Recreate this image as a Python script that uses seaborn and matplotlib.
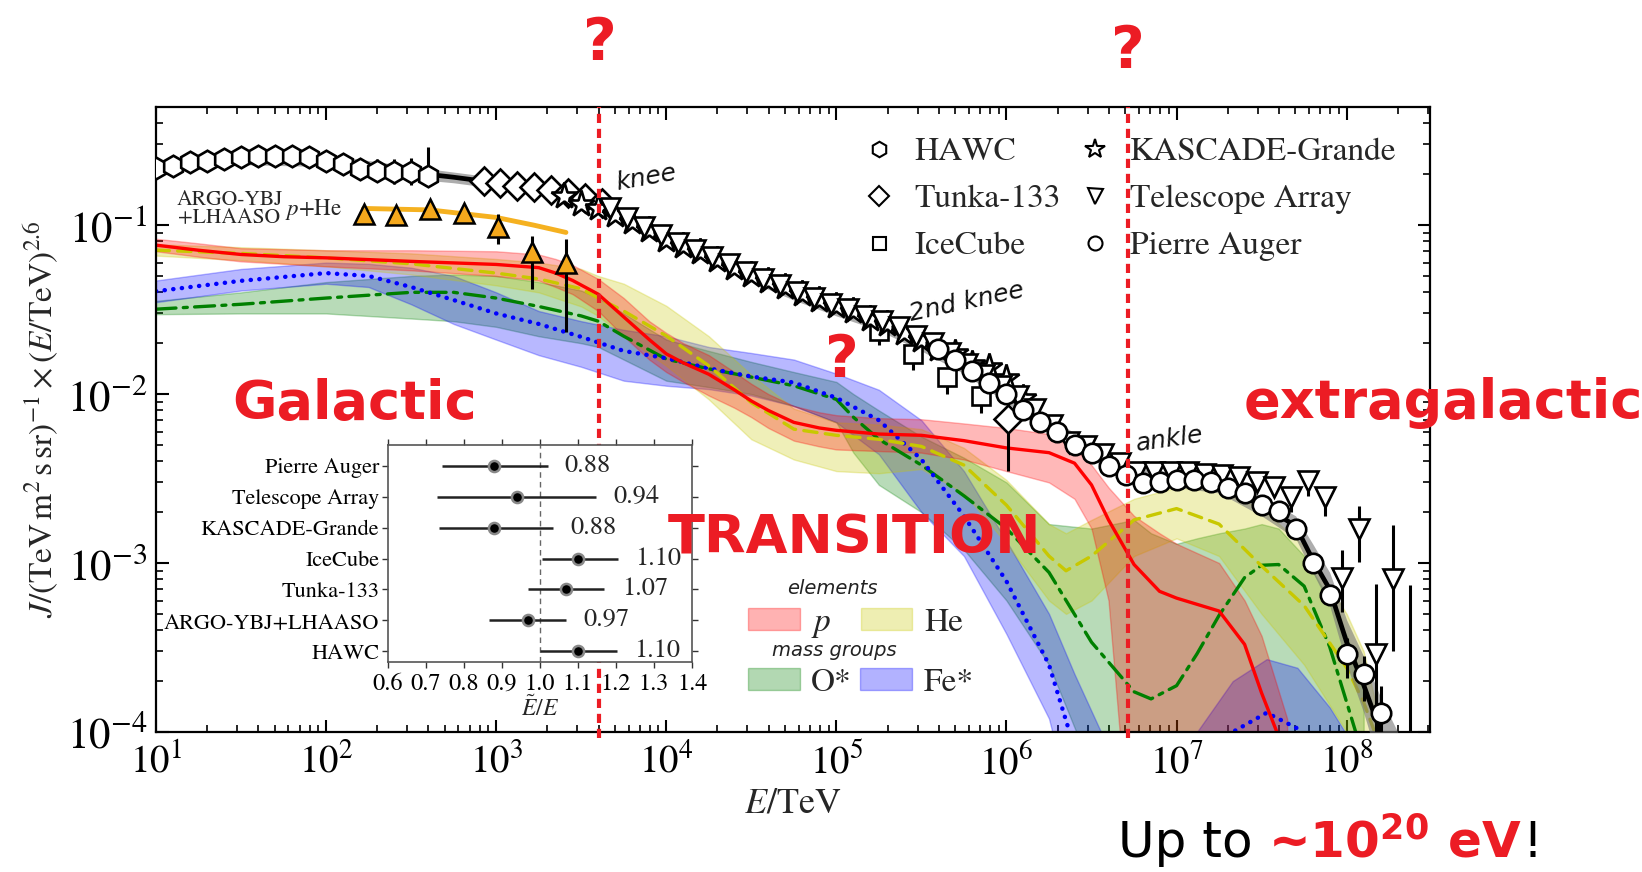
import numpy as np
import matplotlib
matplotlib.use("Agg")
import matplotlib.pyplot as plt
import seaborn as sns
from matplotlib.patches import Patch
from matplotlib.lines import Line2D

# ---------------- data (log10 E/TeV, J*E^2.6) ----------------
total_logE = [1.0, 1.5, 2.0, 2.5, 2.75, 3.0, 3.25, 3.5, 3.6, 3.75, 4.0, 4.25, 4.5, 4.75, 5.0, 5.25, 5.5,
              5.75, 6.0, 6.25, 6.5, 6.75, 7.0, 7.25, 7.5, 7.7, 7.8, 7.9, 8.0, 8.1, 8.2, 8.3]
total_J = [0.219, 0.250, 0.243, 0.205, 0.192, 0.178, 0.165, 0.147, 0.136, 0.112, 0.085, 0.066, 0.050, 0.040,
           0.032, 0.0262, 0.0200, 0.0145, 0.0098, 0.0066, 0.0046, 0.0033, 0.0031, 0.0029, 0.0022, 0.00166,
           0.00105, 0.0007, 0.00034, 0.00019, 0.0001, 0.00005]
total_lo = [0.200, 0.228, 0.222, 0.188, 0.178, 0.165, 0.153, 0.136, 0.125, 0.102, 0.077, 0.060, 0.046, 0.036,
            0.029, 0.0238, 0.018, 0.0132, 0.0089, 0.0060, 0.0041, 0.0030, 0.0028, 0.0026, 0.0019, 0.0014,
            0.00088, 0.00056, 0.00025, 0.00013, 0.00006, 0.00003]
total_hi = [0.238, 0.270, 0.262, 0.222, 0.206, 0.191, 0.178, 0.158, 0.147, 0.121, 0.091, 0.072, 0.055, 0.044,
            0.035, 0.0290, 0.022, 0.0160, 0.0108, 0.0073, 0.0051, 0.0037, 0.0034, 0.0032, 0.0025, 0.0019,
            0.0013, 0.00088, 0.00046, 0.00028, 0.00016, 0.0001]

# composition model: proton
p_logE = [1.0, 1.25, 1.5, 1.75, 2.0, 2.5, 3.0, 3.25, 3.35, 3.45, 3.6, 3.75, 3.9, 4.0, 4.1, 4.25, 4.4, 4.5,
          4.6, 4.75, 4.9, 5.0, 5.25, 5.5, 5.75, 6.0, 6.25, 6.4, 6.5, 6.6, 6.75, 6.9, 7.0, 7.25, 7.4, 7.5, 7.65]
p_J = [0.0761, 0.071, 0.067, 0.065, 0.064, 0.061, 0.0585, 0.056, 0.052, 0.047, 0.039, 0.0286, 0.021, 0.0173,
       0.0153, 0.0131, 0.0106, 0.0091, 0.0080, 0.0068, 0.0063, 0.0061, 0.0058, 0.0057, 0.0053, 0.0048,
       0.0045, 0.0039, 0.0029, 0.0018, 0.00098, 0.00068, 0.00062, 0.00052, 0.00033, 0.00017, 0.00007]
p_lo = [0.070, 0.065, 0.061, 0.059, 0.057, 0.054, 0.050, 0.047, 0.043, 0.039, 0.031, 0.022, 0.0160, 0.0135,
        0.0118, 0.0098, 0.0083, 0.0073, 0.0063, 0.0053, 0.0049, 0.0047, 0.0046, 0.0045, 0.0041, 0.0035,
        0.0030, 0.0024, 0.0016, 0.0006, 0.00001, 0.00001, 0.00001, 0.00001, 0.00001, 0.00001, 0.00001]
p_hi = [0.083, 0.078, 0.073, 0.072, 0.071, 0.071, 0.070, 0.067, 0.063, 0.058, 0.048, 0.037, 0.027, 0.023,
        0.020, 0.017, 0.0135, 0.0115, 0.0100, 0.0085, 0.0078, 0.0075, 0.0072, 0.0071, 0.0067, 0.0063,
        0.0058, 0.0048, 0.0038, 0.0028, 0.0019, 0.0015, 0.0013, 0.0010, 0.0006, 0.00037, 0.00012]

# helium
he_logE = [1.0, 1.5, 2.0, 2.5, 3.0, 3.25, 3.5, 3.6, 3.75, 4.0, 4.25, 4.5, 4.75, 5.0, 5.25, 5.5, 5.75, 6.0,
           6.25, 6.35, 6.5, 6.75, 7.0, 7.25, 7.5, 7.75, 8.0, 8.1, 8.2]
he_J = [0.0711, 0.068, 0.064, 0.059, 0.052, 0.048, 0.042, 0.037, 0.031, 0.0221, 0.0147, 0.0089, 0.0062,
        0.0057, 0.0054, 0.0049, 0.0038, 0.0022, 0.0011, 0.0009, 0.0011, 0.0018, 0.0021, 0.0017, 0.00096,
        0.00056, 0.00024, 0.00015, 0.00008]
he_lo = [0.066, 0.062, 0.057, 0.051, 0.044, 0.040, 0.033, 0.029, 0.022, 0.0147, 0.0093, 0.0054, 0.0041,
         0.0035, 0.0034, 0.0036, 0.0026, 0.0013, 0.0006, 0.0005, 0.0006, 0.0011, 0.0014, 0.0011, 0.0005,
         0.00025, 0.0001, 0.00005, 0.00002]
he_hi = [0.077, 0.074, 0.071, 0.068, 0.063, 0.060, 0.055, 0.050, 0.045, 0.0333, 0.0220, 0.0130, 0.0082,
         0.0068, 0.0066, 0.0062, 0.0048, 0.0031, 0.0017, 0.0015, 0.0018, 0.0024, 0.0028, 0.0027, 0.0021,
         0.00126, 0.0005, 0.0003, 0.00011]

# O* mass group
o_logE = [1.0, 1.5, 2.0, 2.5, 2.75, 3.0, 3.25, 3.5, 3.6, 3.75, 4.0, 4.25, 4.5, 4.75, 5.0, 5.1, 5.25, 5.5,
          5.75, 6.0, 6.25, 6.5, 6.75, 6.85, 7.0, 7.12, 7.25, 7.4, 7.5, 7.6, 7.75, 7.9, 8.0, 8.1]
o_J = [0.0318, 0.034, 0.037, 0.040, 0.040, 0.037, 0.033, 0.029, 0.027, 0.022, 0.0161, 0.0141, 0.0126,
       0.0112, 0.0093, 0.0073, 0.0054, 0.0038, 0.0025, 0.0016, 0.00088, 0.00034, 0.000173, 0.000157,
       0.000188, 0.00029, 0.00049, 0.00082, 0.00097, 0.00098, 0.00073, 0.00032, 0.00015, 0.00007]
o_lo = [0.0297, 0.030, 0.030, 0.028, 0.027, 0.025, 0.022, 0.020, 0.019, 0.016, 0.012, 0.011, 0.0100,
        0.0085, 0.0068, 0.0045, 0.0029, 0.0020, 0.0012, 0.0006, 0.00025, 0.00006, 0.00001, 0.00001,
        0.00001, 0.00001, 0.00001, 0.00001, 0.00001, 0.00001, 0.00001, 0.00001, 0.00001, 0.00001]
o_hi = [0.0356, 0.040, 0.046, 0.050, 0.051, 0.050, 0.046, 0.041, 0.037, 0.030, 0.021, 0.018, 0.0155,
        0.0135, 0.0118, 0.0100, 0.0080, 0.0056, 0.0042, 0.0030, 0.0017, 0.0016, 0.0018, 0.0015, 0.0013,
        0.0014, 0.0015, 0.0016, 0.0017, 0.0016, 0.0011, 0.0006, 0.00037, 0.0002]

# Fe* mass group
fe_logE = [1.0, 1.5, 2.0, 2.25, 2.5, 2.75, 3.0, 3.25, 3.5, 3.75, 4.0, 4.25, 4.5, 4.75, 5.0, 5.25, 5.5,
           5.75, 6.0, 6.25, 6.4, 6.6, 7.0, 7.12, 7.33, 7.53, 7.71, 7.9, 8.05]
fe_J = [0.0406, 0.0468, 0.052, 0.050, 0.043, 0.036, 0.030, 0.026, 0.0218, 0.018, 0.0163, 0.0142, 0.0127,
        0.0117, 0.0095, 0.0070, 0.0041, 0.0019, 0.00078, 0.00025, 0.00008, 0.00003, 0.00002, 0.00004,
        0.00010, 0.00013, 0.000105, 0.00005, 0.00001]
fe_lo = [0.035, 0.041, 0.045, 0.043, 0.034, 0.026, 0.021, 0.017, 0.0145, 0.012, 0.0112, 0.0107, 0.0098,
         0.0085, 0.0068, 0.0044, 0.0020, 0.0011, 0.00038, 0.00012, 0.00003, 0.00001, 0.00001, 0.00001,
         0.00001, 0.00001, 0.00001, 0.00001, 0.00001]
fe_hi = [0.047, 0.055, 0.060, 0.059, 0.056, 0.050, 0.040, 0.031, 0.027, 0.024, 0.022, 0.019, 0.0175,
         0.016, 0.0132, 0.0106, 0.0070, 0.0035, 0.00135, 0.0005, 0.00022, 0.00008, 0.00006, 0.0001,
         0.0002, 0.00027, 0.00024, 0.00014, 0.00008]

# experiments
hawc_logE = [1.0, 1.1, 1.2, 1.3, 1.4, 1.5, 1.6, 1.7, 1.8, 1.9, 2.0, 2.1, 2.2, 2.3, 2.4, 2.5, 2.6]
hawc_J = [0.219, 0.224, 0.235, 0.240, 0.246, 0.252, 0.255, 0.257, 0.255, 0.252, 0.240, 0.230, 0.216, 0.209,
          0.206, 0.205, 0.194]
hawc_lo = [0.190, 0.196, 0.207, 0.212, 0.218, 0.224, 0.227, 0.229, 0.227, 0.224, 0.212, 0.202, 0.188, 0.180,
           0.176, 0.172, 0.172]
hawc_hi = [0.250, 0.255, 0.265, 0.270, 0.276, 0.282, 0.285, 0.287, 0.285, 0.282, 0.272, 0.262, 0.250, 0.245,
           0.245, 0.250, 0.288]

tunka_logE = [2.93, 3.02, 3.12, 3.22, 3.32, 3.42, 3.52, 3.62, 6.01]
tunka_J = [0.183, 0.178, 0.171, 0.167, 0.162, 0.154, 0.144, 0.136, 0.0071]
tunka_lo = [0.183, 0.178, 0.171, 0.167, 0.162, 0.154, 0.144, 0.136, 0.0035]
tunka_hi = [0.183, 0.178, 0.171, 0.167, 0.162, 0.154, 0.144, 0.136, 0.0083]

kg_logE = [3.4, 3.5, 3.6, 3.7, 3.8, 3.9, 4.0, 4.1, 4.2, 4.3, 4.4, 4.5, 4.6, 4.7, 4.8, 4.9, 5.0, 5.1, 5.2, 5.3,
           5.4, 5.5, 5.6, 5.7, 5.8, 5.9, 6.0, 6.1]
kg_J = [0.149, 0.133, 0.127, 0.114, 0.104, 0.093, 0.082, 0.075, 0.069, 0.062, 0.056, 0.051, 0.047, 0.043,
        0.039, 0.036, 0.033, 0.031, 0.028, 0.026, 0.023, 0.021, 0.0185, 0.0175, 0.0150, 0.0145, 0.0125, 0.0095]

ta_logE = [3.67, 3.77, 3.87, 3.97, 4.07, 4.17, 4.27, 4.37, 4.47, 4.57, 4.67, 4.77, 4.87, 4.97, 5.07, 5.17,
           5.27, 5.37, 5.47, 5.57, 5.67, 5.77, 5.87, 5.97, 6.07, 6.17, 6.27, 6.37, 6.47, 6.57, 6.67, 6.77,
           6.87, 6.97, 7.07, 7.17, 7.27, 7.37, 7.47, 7.57, 7.67, 7.77, 7.87, 7.97, 8.07, 8.17, 8.27, 8.37]
ta_J = [0.126, 0.110, 0.098, 0.087, 0.078, 0.071, 0.065, 0.059, 0.053, 0.048, 0.044, 0.040, 0.037, 0.034,
        0.032, 0.029, 0.027, 0.025, 0.022, 0.020, 0.0175, 0.0150, 0.0130, 0.0112, 0.0098, 0.0082, 0.0066,
        0.0052, 0.0049, 0.0044, 0.0039, 0.00344, 0.00344, 0.00345, 0.00345, 0.00336, 0.0033, 0.00322,
        0.0030, 0.0028, 0.00245, 0.00307, 0.00245, 0.00082, 0.00159, 0.00029, 0.00080, 0.00003]
ta_lo = ta_J[:39] + [0.0025, 0.0020, 0.0025, 0.0019, 0.00051, 0.00102, 0.00001, 0.00030, 0.00001]
ta_hi = ta_J[:39] + [0.0031, 0.0027, 0.00336, 0.0027, 0.00119, 0.00218, 0.00075, 0.00167, 0.00074]

icecube_logE = [5.25, 5.45, 5.65, 5.85]
icecube_J = [0.0237, 0.0173, 0.0126, 0.0098]
icecube_lo = [0.0195, 0.0138, 0.0100, 0.0077]
icecube_hi = [0.0250, 0.0182, 0.0133, 0.0103]

auger_logE = [5.6, 5.7, 5.8, 5.9, 6.0, 6.1, 6.2, 6.3, 6.4, 6.5, 6.6, 6.7, 6.8, 6.9, 7.0, 7.1, 7.2, 7.3, 7.4,
              7.5, 7.6, 7.7, 7.8, 7.9, 8.0, 8.1, 8.2]
auger_J = [0.0185, 0.0160, 0.0137, 0.0117, 0.0100, 0.0080, 0.0068, 0.0060, 0.0050, 0.0045, 0.00377, 0.0033,
           0.00297, 0.0030, 0.0031, 0.0031, 0.0030, 0.00277, 0.0026, 0.00222, 0.00202, 0.00159, 0.0010,
           0.00065, 0.00029, 0.00022, 0.00013]
auger_lo = auger_J[:24] + [0.00021, 0.000153, 0.0001]
auger_hi = auger_J[:24] + [0.00036, 0.000283, 0.000187]

argo_logE = [2.22, 2.41, 2.61, 2.81, 3.01, 3.21, 3.41]
argo_J = [0.116, 0.114, 0.1245, 0.118, 0.098, 0.069, 0.0595]
argo_lo = [0.106, 0.104, 0.114, 0.106, 0.0772, 0.0418, 0.0232]
argo_hi = [0.125, 0.123, 0.134, 0.128, 0.116, 0.0865, 0.0826]
argo_fit_logE = [2.22, 2.61, 3.0, 3.22, 3.41]
argo_fit_J = [0.1255, 0.123, 0.111, 0.100, 0.0905]

# inset: energy-scale shifts
inset_names = ["Pierre Auger", "Telescope Array", "KASCADE-Grande", "IceCube", "Tunka-133",
               "ARGO-YBJ+LHAASO", "HAWC"]
inset_shift = [0.88, 0.94, 0.88, 1.10, 1.07, 0.97, 1.10]
inset_lo = [0.743, 0.729, 0.735, 1.005, 0.970, 0.867, 1.000]
inset_hi = [1.021, 1.148, 1.036, 1.205, 1.170, 1.069, 1.203]

transition_E = [4.0e3, 5.2e6]

RED = "#ec1c24"


def E(logs):
    return 10 ** np.asarray(logs, dtype=float)


def fx(px):
    return px / 1642


def fy(py):
    return 1 - py / 872


def main():
    sns.set_theme(style="ticks")
    plt.rcParams["font.family"] = ["STIXGeneral", "DejaVu Sans"]
    plt.rcParams["mathtext.fontset"] = "stix"

    fig = plt.figure(figsize=(16.42, 8.72), dpi=100)
    ax = fig.add_axes([fx(156), fy(732), fx(1430) - fx(156), fy(107) - fy(732)])
    ax.set_xscale("log")
    ax.set_yscale("log")
    ax.set_xlim(10, 10 ** 8.49)
    ax.set_ylim(1e-4, 0.5)

    # composition bands + lines
    comps = [
        (o_logE, o_J, o_lo, o_hi, "#008000", (0, (6, 2.2, 1.2, 2.2)), 2.4),
        (fe_logE, fe_J, fe_lo, fe_hi, "#0000ff", (0, (0.05, 1.9)), 3.2),
        (he_logE, he_J, he_lo, he_hi, "#c8c800", (0, (4, 2.5)), 2.4),
        (p_logE, p_J, p_lo, p_hi, "#ff0000", "-", 2.4),
    ]
    for lgE, mid, lo, hi, col, ls, lw in comps:
        ax.fill_between(E(lgE), lo, hi, color=col, alpha=0.28, lw=1, zorder=1)
    for lgE, mid, lo, hi, col, ls, lw in comps:
        sns.lineplot(x=E(lgE), y=mid, ax=ax, color=col, lw=lw, linestyle=ls, zorder=2,
                     dash_capstyle="round")

    # total flux
    ax.fill_between(E(total_logE), total_lo, total_hi, color="#777777", alpha=0.6, lw=0, zorder=3)
    sns.lineplot(x=E(total_logE), y=total_J, ax=ax, color="black", lw=3.4, zorder=3)

    # ARGO-YBJ + LHAASO p+He
    sns.lineplot(x=E(argo_fit_logE), y=argo_fit_J, ax=ax, color="#f5b120", lw=3.5, zorder=3)
    aJ = np.array(argo_J)
    ax.errorbar(E(argo_logE), aJ, yerr=[aJ - argo_lo, np.array(argo_hi) - aJ], fmt="^", ms=14,
                mfc="#f5a81c", mec="black", mew=1.8, ecolor="black", elinewidth=2.2, zorder=6)

    mk = dict(mfc="white", mec="black", mew=1.9, ecolor="black", elinewidth=2.2, capsize=0, zorder=5)
    experiments = [
        ("HAWC", "h", 15.5, hawc_logE, hawc_J, hawc_lo, hawc_hi),
        ("Tunka-133", "D", 14, tunka_logE, tunka_J, tunka_lo, tunka_hi),
        ("IceCube", "s", 13, icecube_logE, icecube_J, icecube_lo, icecube_hi),
        ("KASCADE-Grande", "*", 20, kg_logE, kg_J, kg_J, kg_J),
        ("Telescope Array", "v", 15, ta_logE, ta_J, ta_lo, ta_hi),
        ("Pierre Auger", "o", 14, auger_logE, auger_J, auger_lo, auger_hi),
    ]
    for name, m, ms, lgE, J, lo, hi in experiments:
        J = np.array(J)
        ax.errorbar(E(lgE), J, yerr=[J - np.array(lo), np.array(hi) - J], fmt=m, ms=ms, **mk)

    # axes styling
    for s in ax.spines.values():
        s.set_linewidth(1.6)
        s.set_color("black")
    ax.tick_params(which="both", direction="in", top=True, right=True, colors="black")
    ax.tick_params(which="major", length=9, width=1.5, labelsize=28, pad=8)
    ax.tick_params(axis="y", which="major", labelsize=31, pad=6)
    ax.tick_params(which="minor", length=5, width=1.2)
    ax.set_xlabel(r"$E/\mathrm{TeV}$", fontsize=26, labelpad=4)
    ax.set_ylabel(r"$J/(\mathrm{TeV\,m^2\,s\,sr})^{-1}\times(E/\mathrm{TeV})^{2.6}$", fontsize=24,
                  labelpad=4)

    # annotations inside the plot
    ax.text(27, 0.1245, "ARGO-YBJ\n+LHAASO", fontsize=15.5, ha="center", va="center", linespacing=0.85)
    ax.text(85, 0.1245, r"$p$+He", fontsize=16.5, ha="center", va="center")
    sans_it = dict(family="DejaVu Sans", style="italic", fontsize=18, color="#111111")
    ax.text(7.6e3, 0.19, "knee", rotation=10, ha="center", va="center", **sans_it)
    ax.text(5.8e5, 0.035, "2nd knee", rotation=12, ha="center", va="center", **sans_it)
    ax.text(9.1e6, 0.0054, "ankle", rotation=8, ha="center", va="center", **sans_it)

    for xe in transition_E:
        ax.axvline(xe, ymin=-0.01, ymax=1.0, color=RED, lw=3, dashes=(2.2, 1.4), clip_on=False, zorder=8)

    # experiment legend
    handles = [Line2D([], [], ls="none", marker=m, ms=ms * 0.72, mfc="white", mec="black", mew=1.5)
               for _, m, ms, *_ in experiments]
    leg = ax.legend(handles, [e[0] for e in experiments], ncol=2,
                    loc="upper left", bbox_to_anchor=(fx(864), fy(137)), bbox_transform=fig.transFigure,
                    frameon=False, fontsize=24, handlelength=0.9, handletextpad=0.6, columnspacing=0.6,
                    labelspacing=0.5, borderpad=0, borderaxespad=0)
    ax.add_artist(leg)

    # composition legends (titles as separate texts)
    title_kw = dict(family="DejaVu Sans", style="italic", fontsize=14, color="#222222", ha="center",
                    va="center")
    cols = {"p": "#ff0000", "He": "#c8c800", "O": "#008000", "Fe": "#0000ff"}
    leg_kw = dict(ncol=2, loc="upper left", bbox_transform=fig.transFigure, frameon=False, fontsize=24,
                  handlelength=1.55, handleheight=0.65, handletextpad=0.35,
                  borderpad=0, borderaxespad=0)
    hp = [Patch(facecolor=cols["p"], edgecolor=cols["p"], alpha=0.3),
          Patch(facecolor=cols["He"], edgecolor=cols["He"], alpha=0.3)]
    leg1 = ax.legend(hp, [r"$p$", "He"], bbox_to_anchor=(fx(748), fy(608)), columnspacing=0.87, **leg_kw)
    ax.add_artist(leg1)
    hm = [Patch(facecolor=cols["O"], edgecolor=cols["O"], alpha=0.3),
          Patch(facecolor=cols["Fe"], edgecolor=cols["Fe"], alpha=0.3)]
    ax.legend(hm, ["O*", "Fe*"], bbox_to_anchor=(fx(748), fy(668)), columnspacing=0.24, **leg_kw)
    fig.text(fx(832), fy(588), "elements", **title_kw)
    fig.text(fx(834), fy(650), "mass groups", **title_kw)

    # inset
    ax_in = fig.add_axes([fx(387.5), fy(662), fx(692) - fx(387.5), fy(445) - fy(662)])
    yi = np.arange(len(inset_names))
    sh = np.array(inset_shift)
    ax_in.axvline(1.0, color="#666666", lw=1, ls=(0, (4, 3)), zorder=1)
    ax_in.errorbar(sh, yi, xerr=[sh - inset_lo, np.array(inset_hi) - sh], fmt="o", ms=8, mfc="black",
                   mec="#888888", mew=1.8, ecolor="#222222", elinewidth=1.8, zorder=3)
    for i, v in enumerate(inset_shift):
        ax_in.text(inset_hi[i] + 0.045, i, f"{v:.2f}", fontsize=19, va="center", ha="left")
    ax_in.set_xlim(0.6, 1.4)
    ax_in.set_ylim(6.35, -0.68)
    ax_in.set_xticks(np.round(np.arange(0.6, 1.41, 0.1), 1))
    ax_in.set_yticks(yi)
    ax_in.set_yticklabels(inset_names)
    ax_in.tick_params(which="both", direction="out", top=True, right=True, labelsize=16, length=4,
                      width=1, colors="#333333", labelcolor="black", pad=2)
    ax_in.tick_params(axis="x", labelsize=17.5, pad=4)
    ax_in.set_xlabel(r"$\tilde{E}/E$", fontsize=17, labelpad=1)
    for s in ax_in.spines.values():
        s.set_color("#555555")
        s.set_linewidth(1.2)
    ax_in.set_facecolor("white")

    # red overlay texts
    bold = dict(family="DejaVu Sans", weight="bold", color=RED)
    fig.text(fx(600), fy(60), "?", fontsize=42, ha="center", va="baseline", **bold)
    fig.text(fx(1128), fy(68), "?", fontsize=42, ha="center", va="baseline", **bold)
    fig.text(fx(842), fy(377), "?", fontsize=42, ha="center", va="baseline", **bold)
    fig.text(fx(355), fy(419), "Galactic", fontsize=39, ha="center", va="baseline", **bold)
    fig.text(fx(855), fy(553), "TRANSITION", fontsize=39, ha="center", va="baseline", **bold)
    fig.text(fx(1244), fy(418), "extragalactic", fontsize=39, ha="left", va="baseline", **bold)

    t1 = fig.text(fx(1118), fy(857), "Up to ", fontsize=36, family="DejaVu Sans", color="black",
                  ha="left", va="baseline")
    t2 = ax.annotate(r"~10$^{\mathbf{20}}$ eV", xy=(1, 0), xycoords=t1, xytext=(0, 0),
                     textcoords="offset points", fontsize=36, family="DejaVu Sans", weight="bold",
                     color=RED, ha="left", va="bottom", math_fontfamily="dejavusans",
                     annotation_clip=False)
    ax.annotate("!", xy=(1, 0), xycoords=t2, xytext=(0, 0), textcoords="offset points", fontsize=36,
                family="DejaVu Sans", color="black", ha="left", va="bottom", annotation_clip=False)

    fig.savefig("out.png", dpi=100)
    plt.close(fig)


if __name__ == "__main__":
    main()
